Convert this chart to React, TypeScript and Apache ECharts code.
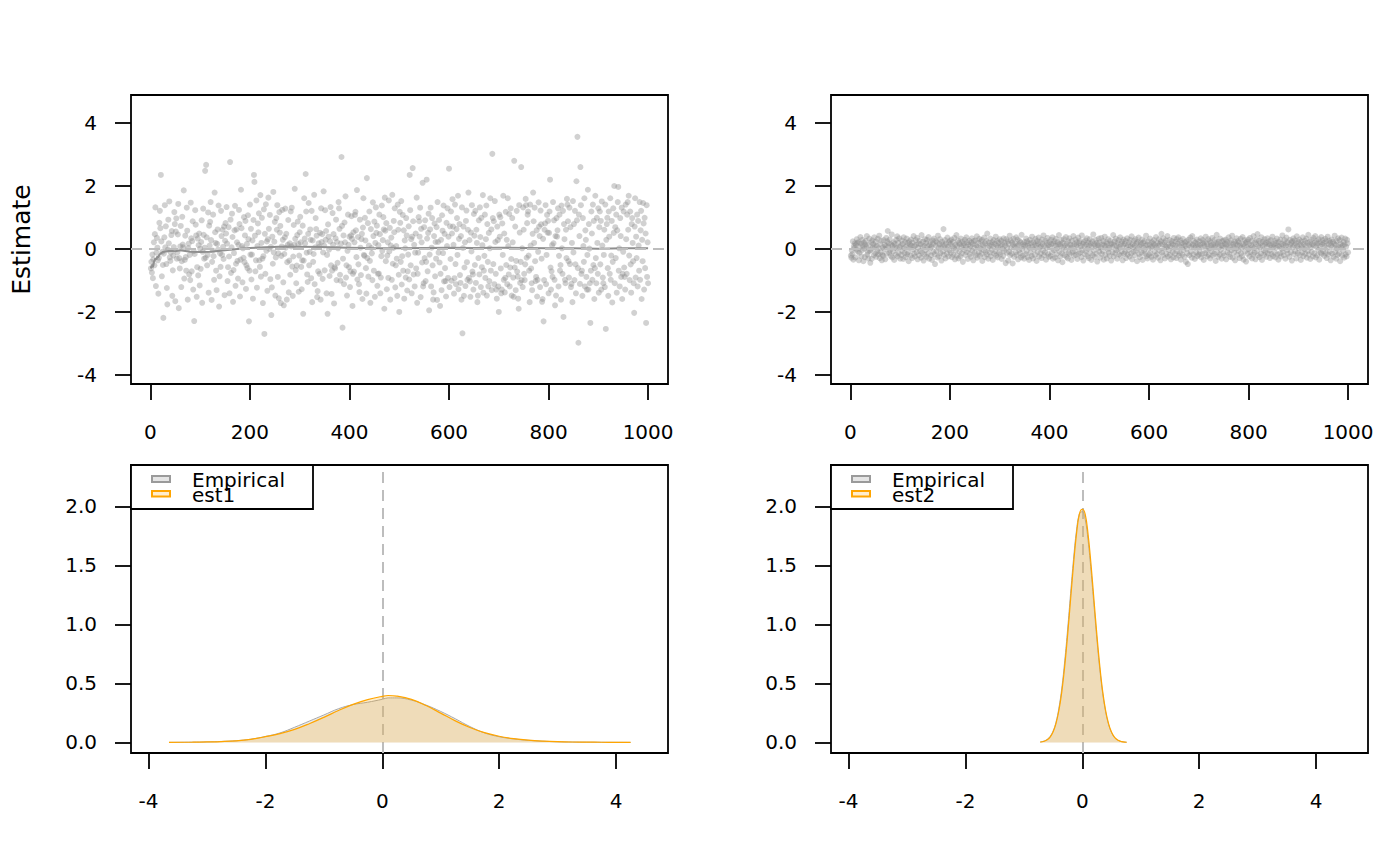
import React, { useEffect, useRef } from "react";
import * as echarts from "echarts";

const FONT = "DejaVu Sans";

// ---- tick values ----
const topXTicks = [0, 200, 400, 600, 800, 1000];
const topYTicks = [-4, -2, 0, 2, 4];
const botXTicks = [-4, -2, 0, 2, 4];
const botYTicks = [0, 0.5, 1, 1.5, 2];

// ---- panel 1: est1 draws (index 1..1000) ----
const est1Draws = [
  -0.62,-0.41,-0.75,-0.18,-0.93,-0.33,0.21,-0.52,0.47,1.32,
  -1.18,-0.12,0.35,0.04,-0.36,-1.42,-0.28,0.83,1.21,0.66,
  2.35,0.24,-0.87,-0.09,-0.51,-2.19,-0.15,0.37,1.39,0.05,
  0.72,-0.48,-1.24,-1.76,-0.02,0.93,0.18,1.51,-0.27,-0.38,
  -0.11,0.44,0.57,-1.49,-0.68,-0.21,0.06,1.17,0.79,-1.66,
  0.55,0.97,-0.31,-0.11,0.46,1.43,-1.88,-0.29,-0.62,0.08,
  0.73,-1.21,-0.39,1.02,0.14,0.05,1.86,-0.94,-0.35,0.42,
  -0.26,-0.69,1.31,0.58,-1.61,0.03,0.17,-0.81,-0.19,-0.99,
  1.47,0.34,-0.71,0.25,0.88,-1.29,-0.07,-2.29,-0.16,1.23,
  0.77,0.43,-1.52,-0.58,0.33,-0.84,0.12,0.49,-1.16,0.01,
  -0.63,0.22,0.91,-1.71,-0.09,1.28,0.45,-0.31,0.04,2.48,
  -0.28,2.67,0.37,-0.52,-0.19,1.16,-1.39,0.74,0.11,0.86,
  1.49,0.28,-1.62,-0.41,-0.05,1.09,-0.23,-0.98,1.79,0.53,
  0.19,-0.69,-1.31,0.16,0.62,-0.02,1.38,-1.83,-0.87,-0.14,
  -0.57,1.21,0.41,-0.19,0.61,0.07,-0.32,0.71,-1.47,0.26,
  0.82,0.49,1.33,0.17,-1.02,-0.58,0.69,-0.24,-1.41,2.76,
  0.93,-0.76,0.05,1.12,0.38,-1.68,-0.67,-0.13,0.59,1.37,
  -1.17,-0.47,0.62,0.21,-0.38,-0.94,0.13,1.24,0.79,-1.51,
  -0.34,1.88,0.66,0.09,-1.06,0.02,-0.28,1.01,-0.42,0.43,
  0.89,-1.27,-0.52,0.16,-0.61,1.07,0.31,-2.3,-0.69,1.41,
  -0.18,0.64,-0.97,-0.18,0.27,-1.58,0.92,2.35,2.13,0.42,
  -0.71,-0.36,1.54,-1.23,0.09,0.81,0.53,1.13,-0.36,-0.57,
  1.71,-0.88,0.19,0.99,-0.31,-1.72,-0.23,1.26,-2.7,0.48,
  -0.79,1.42,-0.06,0.24,-1.33,0.31,1.63,0.64,0.0,1.08,
  -0.96,0.07,-2.1,-1.22,0.39,-0.47,1.81,-0.11,0.23,0.86,
  -1.48,-0.27,0.98,0.61,1.39,-0.89,-0.14,-1.57,1.17,0.52,
  0.73,-1.72,-0.22,0.08,1.24,0.29,-1.06,-1.79,-0.16,0.37,
  1.28,0.04,0.48,-1.61,-0.42,0.13,0.92,-1.38,-0.37,0.18,
  -0.82,1.19,0.08,1.31,-0.56,-1.49,-0.24,0.76,0.13,1.91,
  0.32,-0.67,-1.09,-0.53,0.44,0.87,0.16,-1.36,-0.21,0.53,
  1.02,0.21,-0.57,-1.28,-0.36,0.74,-2.06,-0.37,1.61,0.33,
  0.18,2.38,1.19,-0.12,-0.81,-1.05,0.48,1.46,-0.52,-0.09,
  0.62,0.29,-0.93,1.21,-1.69,0.27,-0.41,-0.16,1.72,-1.12,
  0.05,0.98,0.63,0.42,-1.53,-1.34,-0.71,0.18,0.07,-0.79,
  0.51,-1.61,1.29,0.22,0.47,-0.95,-0.11,1.83,0.11,-0.68,
  1.23,0.29,0.57,-1.41,-0.19,-2.06,0.78,0.39,-0.02,-0.86,
  0.24,1.33,-0.52,-1.43,-0.69,1.14,0.13,0.47,-1.73,-0.58,
  -0.62,0.34,0.93,-0.99,0.22,-0.44,0.02,1.49,1.29,0.64,
  -0.82,-1.01,0.17,2.92,0.73,-2.5,-0.31,0.43,-1.12,0.84,
  0.21,1.67,-0.91,-0.52,-1.48,-0.06,1.09,0.13,-0.58,0.39,
  -1.21,-0.71,0.43,1.04,0.32,-1.81,-0.79,0.53,-0.72,0.21,
  1.08,1.18,0.59,-0.26,1.87,-0.97,0.38,-0.49,-1.12,-1.37,
  0.93,0.04,-0.83,0.31,0.48,-1.59,0.68,1.61,-0.19,-0.22,
  0.99,0.27,-0.61,-1.42,2.25,-0.29,0.82,-0.88,0.11,1.19,
  -0.38,-1.71,0.63,0.03,-0.14,-0.99,1.48,0.41,-0.69,0.87,
  -1.52,0.19,1.32,0.51,0.74,-1.17,-0.79,0.12,-0.78,1.09,
  0.47,-1.41,-0.91,-0.23,1.38,-0.06,0.28,1.01,0.62,-1.9,
  1.63,0.58,-0.39,0.82,-1.28,-0.21,0.21,-0.92,1.54,-0.08,
  0.67,-1.61,0.11,0.36,-0.98,1.72,-0.47,0.03,0.89,0.53,
  1.29,-1.22,-0.52,0.09,-0.31,-1.49,1.41,0.61,-0.82,-2.0,
  1.18,0.83,-0.41,1.52,-1.13,-0.23,1.08,-0.69,0.59,-1.58,
  0.27,0.02,-0.91,0.98,0.43,-1.32,-0.71,-0.18,0.72,-0.97,
  2.35,1.23,-0.52,0.31,-1.41,0.39,2.57,0.88,-0.81,0.13,
  -1.19,-0.12,0.49,-0.62,1.63,-1.71,-0.79,-0.12,1.01,0.88,
  0.39,1.31,-1.53,0.64,0.21,-0.43,2.1,-1.19,-1.09,0.69,
  -0.29,0.91,-1.02,-0.41,2.2,0.33,-0.71,0.51,1.12,-1.95,
  -0.18,0.62,1.31,-1.19,0.04,0.98,-0.52,-1.61,-1.38,0.41,
  0.81,-0.87,0.22,-0.31,0.69,-1.62,1.49,0.22,-0.12,0.92,
  -0.43,-1.81,-0.79,0.29,-1.31,1.07,0.58,-0.13,1.38,-1.03,
  0.48,-0.61,-1.02,-1.51,0.83,0.09,1.29,-0.92,0.39,2.55,
  -1.21,0.72,-0.32,1.19,-1.01,0.49,1.58,0.71,0.13,-1.42,
  -0.93,1.41,-0.48,-1.12,0.63,0.98,-0.19,1.69,-1.28,0.32,
  0.79,-0.83,-1.08,0.41,-1.61,1.32,-2.68,0.03,0.71,-1.49,
  -0.59,0.21,-1.18,0.89,1.22,-0.42,-0.98,0.61,1.79,-0.92,
  0.28,-1.03,-1.52,0.52,-0.08,1.39,-0.72,-0.81,-1.29,1.11,
  0.42,-0.51,1.21,-1.08,0.61,0.19,-1.69,-1.48,-0.29,0.91,
  -0.81,1.32,0.38,-1.21,0.99,-0.58,0.12,1.71,-1.39,-0.69,
  -0.22,1.09,-0.92,0.31,1.38,-1.48,0.79,-0.41,-1.19,0.51,
  -1.02,0.02,1.61,-0.69,0.62,-1.31,3.02,0.98,-0.48,0.88,
  -1.12,1.52,0.22,-0.79,-1.29,-1.58,0.71,0.28,-1.19,-2.0,
  1.09,0.39,1.01,-0.62,-1.41,-1.29,0.81,-0.19,1.69,-0.98,
  0.49,-1.38,-0.92,1.18,-0.51,0.29,-1.12,1.61,0.09,-0.81,
  1.11,-1.19,-0.59,1.29,-0.32,-1.48,0.98,0.21,-0.91,-1.52,
  2.8,-0.59,0.71,-1.31,-0.38,1.21,-0.72,-0.88,-1.58,-1.9,
  1.39,0.52,-1.08,-0.41,2.6,-0.99,0.02,-1.21,1.32,0.61,
  -0.79,-0.99,-0.49,1.59,1.39,-0.28,0.82,1.09,1.19,-0.21,
  -0.69,-1.69,1.41,0.11,-0.62,-1.09,-1.31,0.48,1.79,0.88,
  0.19,1.31,-0.39,-1.02,-0.89,0.59,-1.51,-0.98,-0.09,1.48,
  0.71,0.41,-1.21,1.22,0.78,-0.31,-1.68,-1.59,0.32,-2.3,
  -0.99,0.61,0.81,1.39,-1.12,-0.19,1.08,0.52,0.89,-1.41,
  0.51,1.19,2.2,-0.59,-1.29,-0.71,0.12,-0.89,1.49,0.18,
  0.91,-0.98,-1.79,0.41,-1.48,0.98,0.39,0.59,1.29,-1.19,
  -0.22,1.09,-0.69,-0.51,-1.61,1.38,0.02,-0.79,1.21,-2.16,
  0.79,0.31,-0.98,-1.09,0.61,-0.29,1.59,1.41,0.88,-0.39,
  -0.91,1.31,-0.48,0.69,-1.21,-1.11,0.19,-1.69,1.52,-0.11,
  0.79,-0.99,1.21,-0.49,-1.41,2.15,0.91,3.56,-0.61,-2.98,
  1.09,0.41,-1.11,2.6,1.39,-0.79,-0.69,-1.49,0.98,0.09,
  -0.41,1.61,-1.19,0.59,0.29,-0.89,-1.29,-0.19,1.88,-1.29,
  0.79,0.01,-1.09,-2.35,-0.69,1.19,0.49,-0.98,1.41,-0.51,
  0.89,-1.59,-0.61,1.69,-0.29,-1.09,0.99,0.19,-0.79,1.29,
  -1.39,0.69,1.19,-0.49,0.89,-1.29,1.51,0.11,-0.91,-1.09,
  -0.19,0.61,-1.21,1.41,-2.54,0.29,0.79,0.99,-0.61,-1.49,
  1.19,0.39,-0.79,1.61,-0.98,-0.21,0.89,-1.7,-0.41,1.29,
  0.51,2.0,-1.09,0.69,-0.29,1.09,-1.39,0.59,1.49,1.97,
  -0.69,0.02,-1.19,0.98,0.41,-0.89,1.31,-1.59,-0.79,-0.09,
  1.19,-0.59,-0.89,-1.29,1.41,0.31,-0.79,1.09,1.49,0.61,
  1.69,-0.21,-0.99,1.19,-0.49,-1.39,0.79,0.98,0.19,-0.39,
  -1.09,-2.03,0.71,1.61,-0.91,0.39,-0.29,1.09,-1.19,0.89,
  0.11,-0.69,1.49,-0.98,0.59,1.21,-1.59,0.29,-0.39,1.46,
  0.81,-1.29,0.99,-0.61,0.49,-2.35,1.39,-0.89,0.21,-1.09,
];

// running mean of est1 draws, read at selected indices
const runIdx = [1,2,3,4,5,6,7,8,10,12,14,16,18,20,25,30,40,50,60,80,100,120,150,175,200,230,260,300,340,400,450,500,550,600,650,700,750,800,850,900,950,1000];
const runMean = [-0.62,-0.53,-0.59,-0.49,-0.57,-0.52,-0.42,-0.43,-0.3,-0.33,-0.24,-0.27,-0.18,-0.15,-0.1,-0.08,-0.06,-0.07,-0.04,-0.09,-0.1,-0.09,-0.04,0.0,0.03,0.05,0.07,0.07,0.06,0.04,0.02,0.02,0.03,0.04,0.03,0.04,0.03,0.02,0.02,0.01,0.02,0.02];

// ---- panel 2: est2 draws (index 1..1000) ----
const est2Draws = [
  -.21,-.28,-.05,-.16,.24,-.34,.09,.03,.18,-.27,
  .13,-.02,.31,.19,-.08,.22,-.36,-.12,.06,.38,
  .17,-.23,-.04,.29,.11,-.39,.2,.01,-.26,.14,
  .25,.07,.41,-.18,-.09,-.3,.12,.33,-.06,-.44,
  -.03,.21,-.31,.27,.04,.15,-.2,.37,.08,-.14,
  .23,-.25,.1,-.07,.32,-.17,.02,.42,-.29,.15,
  -.11,.26,-.36,-.19,.05,-.22,.28,.0,.13,-.33,
  .09,.35,-.15,.24,.57,.07,.18,-.12,.3,-.04,
  -.22,.14,.46,-.27,.1,-.08,.21,-.35,.16,.04,
  -.18,.29,.02,.4,-.24,.19,-.13,.34,.06,-.31,
  .11,-.19,.27,-.06,.16,-.32,.37,.03,-.13,.22,
  -.26,.08,.33,-.17,.19,-.1,-.39,.24,.05,.14,
  -.21,.3,.1,-.29,.2,-.02,.41,-.15,.09,-.24,
  .28,.13,-.1,.35,-.33,.04,.17,-.2,.26,-.07,
  .15,-.28,.44,-.12,.06,.23,-.37,.1,-.18,.31,
  -.04,.19,-.25,.29,.09,-.14,.38,-.31,.12,.02,
  .22,-.2,.07,-.35,.27,.16,-.09,.33,-.17,-.48,
  .11,.25,-.07,.2,-.27,.42,.03,-.23,.15,.31,
  -.13,.05,-.37,.23,.14,-.08,.63,-.19,.1,.28,
  -.3,.17,.01,-.15,.36,.07,-.24,.21,-.05,.26,
  .16,-.12,.3,-.26,.08,.22,-.18,.03,.35,-.33,
  .13,-.04,.44,-.21,.1,.27,-.3,.19,-.08,.15,
  -.24,.33,.05,-.14,.23,-.41,.11,.17,-.03,.29,
  -.19,.08,.37,-.1,.21,-.32,.14,.0,.26,-.16,
  .09,-.25,.2,.34,-.06,.15,-.36,.25,.04,-.12,
  .27,-.2,.11,.4,-.28,.06,.19,-.1,.32,-.22,
  .02,.24,-.15,.29,-.38,.13,.09,-.05,.36,-.26,
  .18,-.09,.25,-.17,.49,.04,-.31,.2,.1,-.12,
  .33,-.23,.14,-.03,.22,-.35,.08,.28,-.16,.16,
  -.07,.39,-.21,.11,.25,-.27,.05,.19,-.11,.31,
  -.17,.09,.26,-.32,.15,.01,-.22,.34,-.06,.2,
  .11,-.45,.31,-.12,.05,.24,-.37,.16,-.09,.42,
  -.2,.27,.03,-.15,.21,-.46,.13,.32,-.25,.06,
  .17,-.1,.37,-.19,.09,.3,-.33,.14,-.04,.25,
  -.14,.2,-.27,.45,.0,-.21,.15,.08,-.31,.22,
  .12,-.16,.33,-.07,.24,-.26,.1,.18,-.35,.04,
  .29,-.12,.19,-.22,.39,.06,-.3,.21,-.02,.14,
  -.19,.32,.11,-.38,.25,-.09,.16,.36,-.24,.05,
  .22,-.14,.08,-.29,.3,.15,-.05,.43,-.2,.1,
  -.11,.26,-.34,.19,.03,.35,-.16,.12,-.25,.21,
  .06,-.22,.29,.15,-.1,.37,-.31,.17,-.04,.24,
  -.27,.11,.32,-.17,.02,.21,-.36,.14,.44,-.08,
  .16,-.24,.09,.28,-.14,-.42,.2,.04,.31,-.2,
  .11,-.05,.38,-.25,.17,.07,-.3,.24,-.12,.34,
  -.16,.14,.03,-.35,.26,.1,-.09,.41,-.21,.15,
  -.06,.3,-.19,.12,.21,-.32,.05,.36,-.15,.19,
  .25,-.11,.09,-.26,.43,-.03,.16,-.37,.22,.08,
  -.17,.27,-.07,.14,.34,-.23,.01,.2,-.29,.11,
  .31,-.13,.18,-.35,.06,.24,-.2,.46,-.05,.15,
  -.25,.1,.29,-.15,.19,-.4,.12,.03,.33,-.09,
  .2,-.28,.05,.35,-.16,.14,-.06,.25,-.34,.11,
  .39,-.19,.09,.22,-.3,.16,-.02,.31,-.12,.04,
  -.22,.26,.15,-.37,.18,.07,-.1,.44,-.24,.13,
  .24,-.14,.33,-.04,.1,-.31,.19,.01,.28,-.17,
  .06,.37,-.21,.15,-.08,.23,-.36,.11,.3,-.15,
  .16,-.1,.25,-.29,.06,.34,-.18,.12,-.03,.21,
  -.24,.29,.09,-.14,.4,-.33,.15,.05,-.09,.26,
  .11,-.2,.31,-.05,.18,-.39,.22,.02,.36,-.16,
  .07,-.26,.2,.14,-.11,.3,-.35,.19,.04,-.06,
  .25,-.15,.1,.42,-.23,.13,-.3,.24,.0,-.19,
  .14,.33,-.13,.06,-.25,.22,.09,-.34,.17,.28,
  -.08,.12,-.21,.38,.04,-.16,.2,-.28,.11,.31,
  -.05,.16,-.36,.24,.48,-.11,.15,-.2,.34,.01,
  .21,-.3,.1,.27,-.15,.06,.41,-.24,.13,-.04,
  .29,-.19,.08,-.33,.18,.25,-.1,.14,-.27,.35,
  .03,-.15,.23,.11,-.29,.31,-.08,.17,.37,-.21,
  .09,-.13,.27,-.34,.19,.05,-.18,.32,-.03,.15,
  -.25,.21,.1,-.41,.24,.01,-.14,-.48,.29,.12,
  -.2,.18,.36,-.09,.07,-.28,.41,.14,-.17,.25,
  .04,-.32,.2,.09,-.12,.3,-.23,.15,.06,-.18,
  .24,-.09,.13,.34,-.27,.05,-.16,.28,.18,-.35,
  .1,.22,-.14,.39,-.05,.15,-.24,.08,.31,-.19,
  .01,.25,-.3,.19,.11,-.08,.35,-.21,.14,.04,
  -.15,.29,.09,-.38,.2,.45,-.11,.16,-.25,.23,
  .06,-.18,.33,-.02,.12,-.31,.24,.1,-.13,.27,
  -.21,.16,.05,.3,-.33,.14,.22,-.1,.03,.37,
  -.16,.19,-.25,.09,.27,-.04,.42,-.28,.15,.07,
  -.11,.24,-.36,.17,.01,.34,-.19,.12,.25,-.06,
  .2,-.29,.11,.32,-.14,.04,-.23,.38,.15,-.34,
  .09,.28,-.08,.19,-.4,.23,.06,-.15,.3,.0,
  .17,-.24,.35,-.1,.12,.25,-.3,.07,-.18,.41,
  .03,-.12,.21,-.33,.15,.29,-.06,.47,-.2,.1,
  .26,-.26,.05,.19,-.15,.37,-.35,.11,.23,-.04,
  -.19,.31,.14,-.09,.2,-.25,.07,.34,-.14,.16,
  .24,-.05,-.29,.12,.28,-.16,.1,.39,-.23,.06,
  .15,-.11,.25,-.27,.19,.04,.33,-.17,.11,-.34,
  .22,.08,-.14,.3,-.24,.16,.01,.43,-.09,.12,
  -.2,.28,.18,-.31,.1,.36,-.04,.21,-.15,.62,
  .06,-.25,.29,.14,-.1,.2,-.37,.24,.05,.34,
  -.16,.11,.27,-.08,.18,-.3,.4,.09,-.13,.22,
  .02,.3,-.19,.14,-.35,.24,.08,-.11,.37,-.23,
  .16,.0,.26,-.15,.1,.33,-.28,.19,-.06,.45,
  -.18,.12,.22,-.32,.05,.29,-.09,.15,-.24,.35,
  .11,-.14,.2,.41,-.27,.07,.25,-.2,.17,-.03,
  .31,-.34,.09,.21,-.12,.38,-.16,.14,.28,-.07,
  .19,-.22,.1,.32,-.13,.24,-.29,.04,.39,-.18,
  .15,.26,-.09,.2,-.36,.11,.3,-.15,.06,.23,
  -.25,.17,.42,-.1,.13,-.31,.25,.01,-.19,.34,
  .08,-.14,.28,-.39,.16,.05,.36,-.21,.11,-.05,
  .22,-.28,.14,.33,-.17,.07,-.24,.29,.18,-.11,
];

// ---- panel 3: densities ----
const dens1X = [-3.65,-3.25,-3,-2.75,-2.5,-2.25,-2,-1.75,-1.5,-1.25,-1,-0.75,-0.5,-0.25,0,0.1,0.25,0.5,0.75,1,1.25,1.5,1.75,2,2.25,2.5,2.75,3,3.25,3.5,3.75,4,4.25];
const emp1Dens = [0.0,0.002,0.004,0.008,0.014,0.027,0.05,0.08,0.128,0.18,0.232,0.285,0.32,0.34,0.365,0.377,0.377,0.358,0.316,0.262,0.2,0.134,0.08,0.048,0.029,0.017,0.01,0.005,0.003,0.002,0.001,0.0005,0.0];
const est1Dens = [0.0,0.002,0.004,0.007,0.013,0.026,0.048,0.074,0.11,0.158,0.212,0.27,0.322,0.362,0.39,0.397,0.392,0.364,0.312,0.248,0.182,0.126,0.082,0.052,0.032,0.019,0.011,0.006,0.003,0.002,0.001,0.0005,0.0];

// ---- panel 4: densities ----
const dens2X = [-0.72,-0.65,-0.6,-0.55,-0.5,-0.45,-0.4,-0.35,-0.3,-0.25,-0.2,-0.15,-0.1,-0.05,0,0.05,0.1,0.15,0.2,0.25,0.3,0.35,0.4,0.45,0.5,0.55,0.6,0.65,0.7,0.76];
const emp2Dens = [0.003,0.012,0.025,0.05,0.095,0.17,0.29,0.46,0.69,0.96,1.26,1.55,1.79,1.935,1.955,1.89,1.71,1.455,1.165,0.875,0.62,0.412,0.258,0.152,0.084,0.043,0.021,0.01,0.004,0.001];
const est2Dens = [0.003,0.01,0.022,0.045,0.088,0.159,0.27,0.43,0.648,0.913,1.21,1.506,1.76,1.933,1.975,1.933,1.76,1.506,1.21,0.913,0.648,0.43,0.27,0.159,0.088,0.045,0.022,0.01,0.004,0.001];

const legendNames1 = ["Empirical", "est1"];
const legendNames2 = ["Empirical", "est2"];

const zip = (xs: number[], ys: number[]) => xs.map((x, i) => [x, ys[i]]);

const GRIDS = [
  { left: 131, top: 95, width: 537, height: 289 },
  { left: 831, top: 95, width: 537, height: 289 },
  { left: 131, top: 465, width: 537, height: 288 },
  { left: 831, top: 465, width: 537, height: 288 },
];

function xAxisCfg(gridIndex: number, min: number, max: number, ticks: number[]) {
  return {
    type: "value",
    gridIndex,
    min,
    max,
    axisLine: { show: false, onZero: false },
    splitLine: { show: false },
    axisTick: { show: true, length: 16, lineStyle: { color: "#000", width: 1.8 }, customValues: ticks },
    axisLabel: {
      customValues: ticks,
      margin: 38,
      fontSize: 20,
      color: "#000",
      fontFamily: FONT,
      formatter: (v: number) => String(v),
    },
  };
}

function yAxisCfg(gridIndex: number, min: number, max: number, ticks: number[], fmt?: (v: number) => string) {
  return {
    type: "value",
    gridIndex,
    min,
    max,
    axisLine: { show: false, onZero: false },
    splitLine: { show: false },
    axisTick: { show: true, length: 16, lineStyle: { color: "#000", width: 1.8 }, customValues: ticks },
    axisLabel: {
      customValues: ticks,
      margin: 34,
      fontSize: 20,
      color: "#000",
      fontFamily: FONT,
      formatter: fmt ? (v: number) => fmt(v) : (v: number) => String(v),
    },
  };
}

function legendGraphics(ox: number, names: string[]) {
  return [
    { type: "rect", z: 100, shape: { x: ox, y: 465, width: 182, height: 44 }, style: { fill: "#fff", stroke: "#000", lineWidth: 1.8 } },
    { type: "rect", z: 101, shape: { x: ox + 21, y: 476, width: 18, height: 6 }, style: { fill: "#e5e5e5", stroke: "#9a9a9a", lineWidth: 2 } },
    { type: "rect", z: 101, shape: { x: ox + 21, y: 491, width: 18, height: 5.5 }, style: { fill: "#ffedcc", stroke: "#FFA500", lineWidth: 2 } },
    { type: "text", z: 102, x: ox + 61, y: 479.5, style: { text: names[0], fontSize: 20, fontFamily: FONT, fill: "#000", verticalAlign: "middle", align: "left" } },
    { type: "text", z: 102, x: ox + 61, y: 494.5, style: { text: names[1], fontSize: 20, fontFamily: FONT, fill: "#000", verticalAlign: "middle", align: "left" } },
  ];
}

const dashedZero = {
  silent: true,
  symbol: ["none", "none"],
  label: { show: false },
  lineStyle: { color: "#bdbdbd", type: [11, 7], width: 2 },
};

export default function App() {
  const ref = useRef<HTMLDivElement>(null);
  useEffect(() => {
    if (!ref.current) return;
    const chart = echarts.init(ref.current, null, { renderer: "svg" });
    const pointColor = "rgba(140,140,140,0.5)";
    const option: any = {
      animation: false,
      backgroundColor: "#fff",
      textStyle: { fontFamily: FONT },
      grid: GRIDS.map((g) => ({ ...g, show: true, borderColor: "#000", borderWidth: 1.8, backgroundColor: "transparent" })),
      xAxis: [
        xAxisCfg(0, -39, 1040, topXTicks),
        xAxisCfg(1, -39, 1040, topXTicks),
        xAxisCfg(2, -4.3, 4.89, botXTicks),
        xAxisCfg(3, -4.3, 4.89, botXTicks),
      ],
      yAxis: [
        {
          ...yAxisCfg(0, -4.29, 4.89, topYTicks),
          name: "Estimate",
          nameLocation: "middle",
          nameRotate: 90,
          nameGap: 97,
          nameTextStyle: { fontSize: 25, color: "#000", fontFamily: FONT },
        },
        yAxisCfg(1, -4.29, 4.89, topYTicks),
        yAxisCfg(2, -0.09, 2.35, botYTicks, (v) => v.toFixed(1)),
        yAxisCfg(3, -0.09, 2.35, botYTicks, (v) => v.toFixed(1)),
      ],
      series: [
        {
          type: "scatter",
          xAxisIndex: 0,
          yAxisIndex: 0,
          symbol: "circle",
          symbolSize: 6,
          itemStyle: { color: pointColor },
          data: est1Draws.map((v, i) => [i + 1, v]),
          markLine: { ...dashedZero, data: [{ yAxis: 0 }] },
          z: 2,
        },
        {
          type: "line",
          xAxisIndex: 0,
          yAxisIndex: 0,
          showSymbol: false,
          lineStyle: { color: "#8f8f8f", width: 2 },
          data: zip(runIdx, runMean),
          z: 3,
        },
        {
          type: "scatter",
          xAxisIndex: 1,
          yAxisIndex: 1,
          symbol: "circle",
          symbolSize: 6,
          itemStyle: { color: pointColor },
          data: est2Draws.map((v, i) => [i + 1, v]),
          markLine: { ...dashedZero, data: [{ yAxis: 0 }] },
          z: 2,
        },
        {
          name: "Empirical",
          type: "line",
          xAxisIndex: 2,
          yAxisIndex: 2,
          showSymbol: false,
          smooth: 0.4,
          lineStyle: { color: "#a8a8a8", width: 1 },
          areaStyle: { color: "rgba(190,190,190,0.3)", opacity: 1 },
          data: zip(dens1X, emp1Dens),
          markLine: { ...dashedZero, z: 1, data: [{ xAxis: 0 }] },
          z: 2,
        },
        {
          name: legendNames1[1],
          type: "line",
          xAxisIndex: 2,
          yAxisIndex: 2,
          showSymbol: false,
          smooth: 0.4,
          lineStyle: { color: "#FFA500", width: 1.2 },
          areaStyle: { color: "rgba(255,165,0,0.21)", opacity: 1 },
          data: zip(dens1X, est1Dens),
          z: 3,
        },
        {
          name: "Empirical",
          type: "line",
          xAxisIndex: 3,
          yAxisIndex: 3,
          showSymbol: false,
          smooth: 0.4,
          lineStyle: { color: "#a8a8a8", width: 1 },
          areaStyle: { color: "rgba(190,190,190,0.3)", opacity: 1 },
          data: zip(dens2X, emp2Dens),
          markLine: { ...dashedZero, z: 1, data: [{ xAxis: 0 }] },
          z: 2,
        },
        {
          name: legendNames2[1],
          type: "line",
          xAxisIndex: 3,
          yAxisIndex: 3,
          showSymbol: false,
          smooth: 0.4,
          lineStyle: { color: "#FFA500", width: 1.2 },
          areaStyle: { color: "rgba(255,165,0,0.21)", opacity: 1 },
          data: zip(dens2X, est2Dens),
          z: 3,
        },
      ],
      graphic: [...legendGraphics(131, legendNames1), ...legendGraphics(831, legendNames2)],
    };
    chart.setOption(option);
    return () => chart.dispose();
  }, []);
  return (
    <div
      ref={ref}
      style={{ position: "absolute", left: 0, top: 0, width: 1400, height: 866 }}
    />
  );
}
